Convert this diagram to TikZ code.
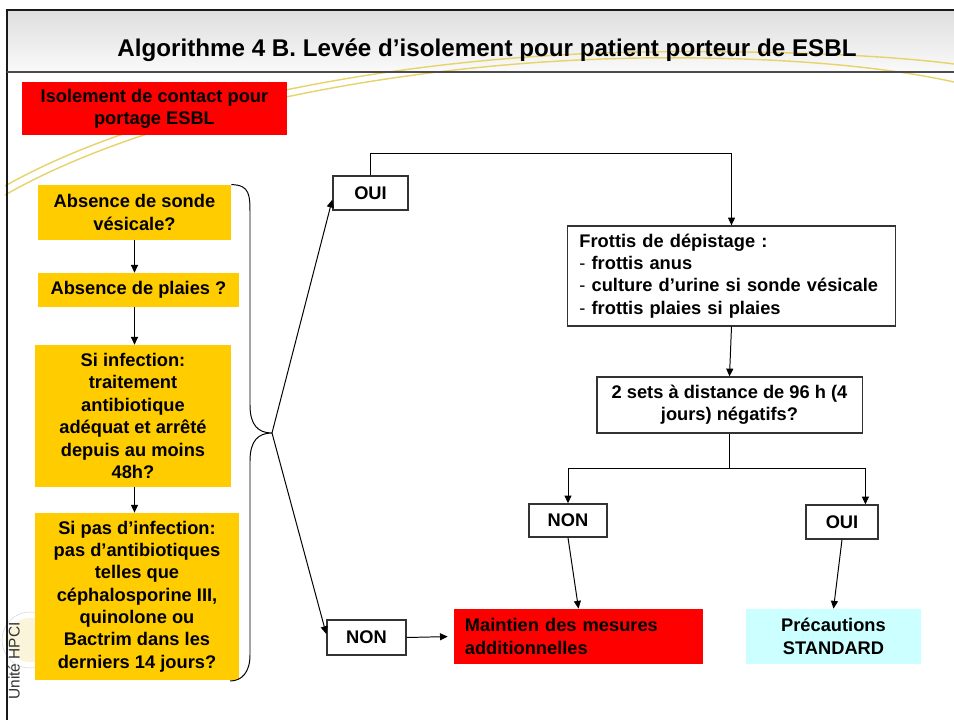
\documentclass[tikz,border=0pt]{standalone}
\usepackage{fontspec}
\setmainfont{Liberation Sans}
\usetikzlibrary{arrows.meta}
\definecolor{ambre}{HTML}{FFCC00}
\definecolor{rouge}{HTML}{FF0000}
\definecolor{cyanpale}{HTML}{CCFFFF}
\definecolor{swoosh}{HTML}{E6D36A}
\begin{document}
\begin{tikzpicture}[x=0.025cm,y=-0.025cm,>={Triangle[length=5.5pt,width=5pt]},
  txt/.style={font=\fontsize{13}{15.9}\selectfont\bfseries,inner sep=0pt,align=center},
  ybox/.style={txt,fill=ambre},
  wbox/.style={txt,draw=black!80,line width=0.9pt,fill=white},
  lien/.style={line width=0.7pt}]
\useasboundingbox (0,0) rectangle (954,720);
%\draw[step=50,gray,very thin] (0,0) grid (954,720); %background grid
\fill[white] (0,0) rectangle (954,720);
\shade[top color=black!13,bottom color=black!2] (7,10) rectangle (954,72); %title band
\draw[swoosh,line width=1pt] (5,195) .. controls (150,112) and (400,62) .. (640,58) .. controls (800,56) and (900,70) .. (954,82);
\draw[swoosh,line width=1pt] (5,186) .. controls (150,104) and (400,56) .. (640,52) .. controls (800,50) and (900,57) .. (954,64);
\fill[swoosh!25] (30,640) circle (22); %logo
\draw[black!15] (30,640) circle (28);
\draw[line width=1.8pt,black!90] (7,720) -- (7,10) -- (954,10); %frame
\draw[line width=1.1pt,black!70] (7,72) -- (954,72);
\node[font=\fontsize{17.2}{20}\selectfont\bfseries] (titre) at (487,50) {Algorithme 4 B. Levée d’isolement pour patient porteur de ESBL};
\node[rotate=90,font=\fontsize{11}{13}\selectfont,text=black!80] (unite) at (14,661) {Unité HPCI};

% left column
\node[txt,fill=rouge,minimum width=6.63cm,minimum height=1.33cm] (isol) at (154.5,108.5) {Isolement de contact pour\\portage ESBL};
\node[ybox,minimum width=4.83cm,minimum height=1.38cm] (sonde) at (134.5,212.5) {Absence de sonde\\vésicale?};
\node[ybox,minimum width=5.03cm,minimum height=0.85cm] (plaies) at (138.5,290) {Absence de plaies ?};
\node[ybox,minimum width=4.9cm,minimum height=3.55cm] (infect) at (133,416) {Si infection:\\traitement\\antibiotique\\adéquat et arrêté\\depuis au moins\\48h?};
\node[ybox,minimum width=5.1cm,minimum height=4.18cm] (noinf) at (137,596.5) {Si pas d’infection:\\pas d’antibiotiques\\telles que\\céphalosporine III,\\quinolone ou\\Bactrim dans les\\derniers 14 jours?};
\draw[lien,->] (sonde.south) -- (sonde.south |- plaies.north);
\draw[lien,->] (sonde.south |- plaies.south) -- (sonde.south |- infect.north);
\draw[lien,->] (sonde.south |- infect.south) -- (sonde.south |- noinf.north);

% brace
\coordinate (tip) at (272,433);
\draw[lien] (sonde.north east) .. controls (250,185) and (250,195) .. (250,215) -- (250,405) .. controls (250,425) and (258,433) .. (tip) .. controls (258,433) and (250,441) .. (250,461) -- (250,655) .. controls (250,672) and (242,681) .. (230,681);

% answers
\node[wbox,minimum width=1.88cm,minimum height=0.85cm] (oui1) at (370.5,193) {OUI};
\node[wbox,minimum width=1.98cm,minimum height=0.88cm] (non1) at (366.5,637.5) {NON};
\draw[lien,->] (tip) -- (oui1.190);
\draw[lien,->] (tip) -- (non1.175);

% right part
\node[wbox,align=left,text width=7.6cm,inner xsep=0.28cm,minimum width=8.18cm,minimum height=2.5cm] (frottis) at (731.5,276) {Frottis de dépistage :\\\mdseries -\bfseries\ frottis anus\\\mdseries -\bfseries\ culture d’urine si sonde vésicale\\\mdseries -\bfseries\ frottis plaies si plaies};
\node[wbox,minimum width=6.63cm,minimum height=1.4cm] (sets) at (729.5,405) {2 sets à distance de 96 h (4\\jours) négatifs?};
\node[wbox,minimum width=1.95cm,minimum height=0.83cm] (non2) at (568,520.5) {NON};
\node[wbox,minimum width=1.8cm,minimum height=0.85cm] (oui2) at (842,522) {OUI};
\node[txt,fill=rouge,align=left,text width=5.68cm,inner xsep=0.28cm,minimum width=6.23cm,minimum height=1.38cm] (maint) at (578.5,636.5) {Maintien des mesures\\additionnelles};
\node[txt,fill=cyanpale,minimum width=4.38cm,minimum height=1.38cm] (prec) at (833.5,636.5) {Précautions\\STANDARD};

\coordinate (haut) at (731.5,153);
\coordinate (fourche) at (729.5,468);
\draw[lien,->] (oui1.north) |- (haut) -- (frottis.north);
\draw[lien,->] (frottis.south) -- (sets.north);
\draw[lien] (sets.south) -- (fourche);
\draw[lien,->] (fourche) -| (non2.north);
\draw[lien,->] (fourche) -| (oui2.37);
\draw[lien,->] (non2.south) -- (maint.north);
\draw[lien,->] (oui2.south) -- (prec.north);
\draw[lien,->,shorten >=4pt] (non1.east) -- (maint.west);
\end{tikzpicture}
\end{document}
